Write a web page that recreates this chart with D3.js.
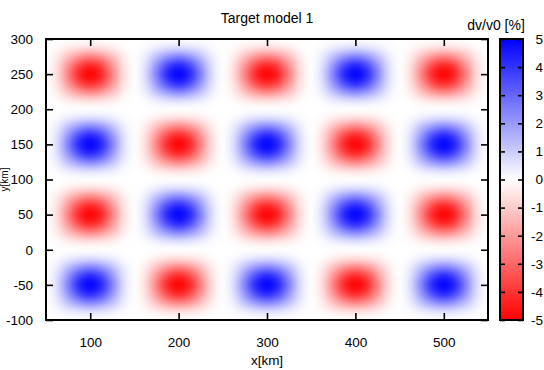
<!DOCTYPE html>
<html>
<head>
<meta charset="utf-8">
<script src="https://cdn.jsdelivr.net/npm/d3@7"></script>
<style>
  body { margin: 0; background: #fff; }
  svg { display: block; }
  text { font-family: "Liberation Sans", Arial, sans-serif; fill: #000; }
</style>
</head>
<body>
<div id="chart"></div>
<script>
// labels
const titleText = 'Target model 1';
const xLabel = 'x[km]';
const yLabel = 'y[km]';
const cbLabel = 'dv/v0 [%]';

// tick values
const xTicks = [100, 200, 300, 400, 500];
const yTicks = [-100, -50, 0, 50, 100, 150, 200, 250, 300];
const cbTicks = [-5, -4, -3, -2, -1, 0, 1, 2, 3, 4, 5];

// grid nodes of the model (km), columns left->right, rows top->bottom
const xNodes = [50, 62.5, 75, 87.5, 100, 112.5, 125, 137.5, 150, 162.5, 175, 187.5, 200, 212.5, 225, 237.5,
  250, 262.5, 275, 287.5, 300, 312.5, 325, 337.5, 350, 362.5, 375, 387.5, 400, 412.5, 425, 437.5,
  450, 462.5, 475, 487.5, 500, 512.5, 525, 537.5, 550];
const yNodes = [300, 287.5, 275, 262.5, 250, 237.5, 225, 212.5, 200, 187.5, 175, 162.5, 150, 137.5, 125, 112.5,
  100, 87.5, 75, 62.5, 50, 37.5, 25, 12.5, 0, -12.5, -25, -37.5, -50, -62.5, -75, -87.5, -100];

// dv/v0 [%], one row per yNode
const dv = [
  [0, 0,0,0,0,0,0,0, 0, 0,0,0,0,0,0,0, 0, 0,0,0,0,0,0,0, 0, 0,0,0,0,0,0,0, 0, 0,0,0,0,0,0,0, 0],
  [0, -.1,-.4,-.6,-.7,-.6,-.4,-.1, 0, .1,.4,.6,.7,.6,.4,.1, 0, -.1,-.4,-.6,-.7,-.6,-.4,-.1, 0, .1,.4,.6,.7,.6,.4,.1, 0, -.1,-.4,-.6,-.7,-.6,-.4,-.1, 0],
  [0, -.4,-1.3,-2.1,-2.5,-2.1,-1.3,-.4, 0, .4,1.3,2.1,2.5,2.1,1.3,.4, 0, -.4,-1.3,-2.1,-2.5,-2.1,-1.3,-.4, 0, .4,1.3,2.1,2.5,2.1,1.3,.4, 0, -.4,-1.3,-2.1,-2.5,-2.1,-1.3,-.4, 0],
  [0, -.6,-2.1,-3.6,-4.3,-3.6,-2.1,-.6, 0, .6,2.1,3.6,4.3,3.6,2.1,.6, 0, -.6,-2.1,-3.6,-4.3,-3.6,-2.1,-.6, 0, .6,2.1,3.6,4.3,3.6,2.1,.6, 0, -.6,-2.1,-3.6,-4.3,-3.6,-2.1,-.6, 0],
  [0, -.7,-2.5,-4.3,-5,-4.3,-2.5,-.7, 0, .7,2.5,4.3,5,4.3,2.5,.7, 0, -.7,-2.5,-4.3,-5,-4.3,-2.5,-.7, 0, .7,2.5,4.3,5,4.3,2.5,.7, 0, -.7,-2.5,-4.3,-5,-4.3,-2.5,-.7, 0],
  [0, -.6,-2.1,-3.6,-4.3,-3.6,-2.1,-.6, 0, .6,2.1,3.6,4.3,3.6,2.1,.6, 0, -.6,-2.1,-3.6,-4.3,-3.6,-2.1,-.6, 0, .6,2.1,3.6,4.3,3.6,2.1,.6, 0, -.6,-2.1,-3.6,-4.3,-3.6,-2.1,-.6, 0],
  [0, -.4,-1.3,-2.1,-2.5,-2.1,-1.3,-.4, 0, .4,1.3,2.1,2.5,2.1,1.3,.4, 0, -.4,-1.3,-2.1,-2.5,-2.1,-1.3,-.4, 0, .4,1.3,2.1,2.5,2.1,1.3,.4, 0, -.4,-1.3,-2.1,-2.5,-2.1,-1.3,-.4, 0],
  [0, -.1,-.4,-.6,-.7,-.6,-.4,-.1, 0, .1,.4,.6,.7,.6,.4,.1, 0, -.1,-.4,-.6,-.7,-.6,-.4,-.1, 0, .1,.4,.6,.7,.6,.4,.1, 0, -.1,-.4,-.6,-.7,-.6,-.4,-.1, 0],
  [0, 0,0,0,0,0,0,0, 0, 0,0,0,0,0,0,0, 0, 0,0,0,0,0,0,0, 0, 0,0,0,0,0,0,0, 0, 0,0,0,0,0,0,0, 0],
  [0, .1,.4,.6,.7,.6,.4,.1, 0, -.1,-.4,-.6,-.7,-.6,-.4,-.1, 0, .1,.4,.6,.7,.6,.4,.1, 0, -.1,-.4,-.6,-.7,-.6,-.4,-.1, 0, .1,.4,.6,.7,.6,.4,.1, 0],
  [0, .4,1.3,2.1,2.5,2.1,1.3,.4, 0, -.4,-1.3,-2.1,-2.5,-2.1,-1.3,-.4, 0, .4,1.3,2.1,2.5,2.1,1.3,.4, 0, -.4,-1.3,-2.1,-2.5,-2.1,-1.3,-.4, 0, .4,1.3,2.1,2.5,2.1,1.3,.4, 0],
  [0, .6,2.1,3.6,4.3,3.6,2.1,.6, 0, -.6,-2.1,-3.6,-4.3,-3.6,-2.1,-.6, 0, .6,2.1,3.6,4.3,3.6,2.1,.6, 0, -.6,-2.1,-3.6,-4.3,-3.6,-2.1,-.6, 0, .6,2.1,3.6,4.3,3.6,2.1,.6, 0],
  [0, .7,2.5,4.3,5,4.3,2.5,.7, 0, -.7,-2.5,-4.3,-5,-4.3,-2.5,-.7, 0, .7,2.5,4.3,5,4.3,2.5,.7, 0, -.7,-2.5,-4.3,-5,-4.3,-2.5,-.7, 0, .7,2.5,4.3,5,4.3,2.5,.7, 0],
  [0, .6,2.1,3.6,4.3,3.6,2.1,.6, 0, -.6,-2.1,-3.6,-4.3,-3.6,-2.1,-.6, 0, .6,2.1,3.6,4.3,3.6,2.1,.6, 0, -.6,-2.1,-3.6,-4.3,-3.6,-2.1,-.6, 0, .6,2.1,3.6,4.3,3.6,2.1,.6, 0],
  [0, .4,1.3,2.1,2.5,2.1,1.3,.4, 0, -.4,-1.3,-2.1,-2.5,-2.1,-1.3,-.4, 0, .4,1.3,2.1,2.5,2.1,1.3,.4, 0, -.4,-1.3,-2.1,-2.5,-2.1,-1.3,-.4, 0, .4,1.3,2.1,2.5,2.1,1.3,.4, 0],
  [0, .1,.4,.6,.7,.6,.4,.1, 0, -.1,-.4,-.6,-.7,-.6,-.4,-.1, 0, .1,.4,.6,.7,.6,.4,.1, 0, -.1,-.4,-.6,-.7,-.6,-.4,-.1, 0, .1,.4,.6,.7,.6,.4,.1, 0],
  [0, 0,0,0,0,0,0,0, 0, 0,0,0,0,0,0,0, 0, 0,0,0,0,0,0,0, 0, 0,0,0,0,0,0,0, 0, 0,0,0,0,0,0,0, 0],
  [0, -.1,-.4,-.6,-.7,-.6,-.4,-.1, 0, .1,.4,.6,.7,.6,.4,.1, 0, -.1,-.4,-.6,-.7,-.6,-.4,-.1, 0, .1,.4,.6,.7,.6,.4,.1, 0, -.1,-.4,-.6,-.7,-.6,-.4,-.1, 0],
  [0, -.4,-1.3,-2.1,-2.5,-2.1,-1.3,-.4, 0, .4,1.3,2.1,2.5,2.1,1.3,.4, 0, -.4,-1.3,-2.1,-2.5,-2.1,-1.3,-.4, 0, .4,1.3,2.1,2.5,2.1,1.3,.4, 0, -.4,-1.3,-2.1,-2.5,-2.1,-1.3,-.4, 0],
  [0, -.6,-2.1,-3.6,-4.3,-3.6,-2.1,-.6, 0, .6,2.1,3.6,4.3,3.6,2.1,.6, 0, -.6,-2.1,-3.6,-4.3,-3.6,-2.1,-.6, 0, .6,2.1,3.6,4.3,3.6,2.1,.6, 0, -.6,-2.1,-3.6,-4.3,-3.6,-2.1,-.6, 0],
  [0, -.7,-2.5,-4.3,-5,-4.3,-2.5,-.7, 0, .7,2.5,4.3,5,4.3,2.5,.7, 0, -.7,-2.5,-4.3,-5,-4.3,-2.5,-.7, 0, .7,2.5,4.3,5,4.3,2.5,.7, 0, -.7,-2.5,-4.3,-5,-4.3,-2.5,-.7, 0],
  [0, -.6,-2.1,-3.6,-4.3,-3.6,-2.1,-.6, 0, .6,2.1,3.6,4.3,3.6,2.1,.6, 0, -.6,-2.1,-3.6,-4.3,-3.6,-2.1,-.6, 0, .6,2.1,3.6,4.3,3.6,2.1,.6, 0, -.6,-2.1,-3.6,-4.3,-3.6,-2.1,-.6, 0],
  [0, -.4,-1.3,-2.1,-2.5,-2.1,-1.3,-.4, 0, .4,1.3,2.1,2.5,2.1,1.3,.4, 0, -.4,-1.3,-2.1,-2.5,-2.1,-1.3,-.4, 0, .4,1.3,2.1,2.5,2.1,1.3,.4, 0, -.4,-1.3,-2.1,-2.5,-2.1,-1.3,-.4, 0],
  [0, -.1,-.4,-.6,-.7,-.6,-.4,-.1, 0, .1,.4,.6,.7,.6,.4,.1, 0, -.1,-.4,-.6,-.7,-.6,-.4,-.1, 0, .1,.4,.6,.7,.6,.4,.1, 0, -.1,-.4,-.6,-.7,-.6,-.4,-.1, 0],
  [0, 0,0,0,0,0,0,0, 0, 0,0,0,0,0,0,0, 0, 0,0,0,0,0,0,0, 0, 0,0,0,0,0,0,0, 0, 0,0,0,0,0,0,0, 0],
  [0, .1,.4,.6,.7,.6,.4,.1, 0, -.1,-.4,-.6,-.7,-.6,-.4,-.1, 0, .1,.4,.6,.7,.6,.4,.1, 0, -.1,-.4,-.6,-.7,-.6,-.4,-.1, 0, .1,.4,.6,.7,.6,.4,.1, 0],
  [0, .4,1.3,2.1,2.5,2.1,1.3,.4, 0, -.4,-1.3,-2.1,-2.5,-2.1,-1.3,-.4, 0, .4,1.3,2.1,2.5,2.1,1.3,.4, 0, -.4,-1.3,-2.1,-2.5,-2.1,-1.3,-.4, 0, .4,1.3,2.1,2.5,2.1,1.3,.4, 0],
  [0, .6,2.1,3.6,4.3,3.6,2.1,.6, 0, -.6,-2.1,-3.6,-4.3,-3.6,-2.1,-.6, 0, .6,2.1,3.6,4.3,3.6,2.1,.6, 0, -.6,-2.1,-3.6,-4.3,-3.6,-2.1,-.6, 0, .6,2.1,3.6,4.3,3.6,2.1,.6, 0],
  [0, .7,2.5,4.3,5,4.3,2.5,.7, 0, -.7,-2.5,-4.3,-5,-4.3,-2.5,-.7, 0, .7,2.5,4.3,5,4.3,2.5,.7, 0, -.7,-2.5,-4.3,-5,-4.3,-2.5,-.7, 0, .7,2.5,4.3,5,4.3,2.5,.7, 0],
  [0, .6,2.1,3.6,4.3,3.6,2.1,.6, 0, -.6,-2.1,-3.6,-4.3,-3.6,-2.1,-.6, 0, .6,2.1,3.6,4.3,3.6,2.1,.6, 0, -.6,-2.1,-3.6,-4.3,-3.6,-2.1,-.6, 0, .6,2.1,3.6,4.3,3.6,2.1,.6, 0],
  [0, .4,1.3,2.1,2.5,2.1,1.3,.4, 0, -.4,-1.3,-2.1,-2.5,-2.1,-1.3,-.4, 0, .4,1.3,2.1,2.5,2.1,1.3,.4, 0, -.4,-1.3,-2.1,-2.5,-2.1,-1.3,-.4, 0, .4,1.3,2.1,2.5,2.1,1.3,.4, 0],
  [0, .1,.4,.6,.7,.6,.4,.1, 0, -.1,-.4,-.6,-.7,-.6,-.4,-.1, 0, .1,.4,.6,.7,.6,.4,.1, 0, -.1,-.4,-.6,-.7,-.6,-.4,-.1, 0, .1,.4,.6,.7,.6,.4,.1, 0],
  [0, 0,0,0,0,0,0,0, 0, 0,0,0,0,0,0,0, 0, 0,0,0,0,0,0,0, 0, 0,0,0,0,0,0,0, 0, 0,0,0,0,0,0,0, 0]
];

const width = 544, height = 370;
const plot = {left: 46, right: 488, top: 39, bottom: 320};
const cbBox = {left: 500, right: 523};

const svg = d3.select('#chart').append('svg')
  .attr('width', width)
  .attr('height', height);

const x = d3.scaleLinear().domain([50, 550]).range([plot.left, plot.right]);
const y = d3.scaleLinear().domain([-100, 300]).range([plot.bottom, plot.top]);
const cb = d3.scaleLinear().domain([-5, 5]).range([plot.bottom, plot.top]);
const color = d3.scaleLinear()
  .domain([-5, 0, 5])
  .range(['#ff0000', '#ffffff', '#0000ff'])
  .clamp(true);

// heat map: one pixel per grid node, then smoothed up to plot size
const small = document.createElement('canvas');
small.width = xNodes.length;
small.height = yNodes.length;
const sctx = small.getContext('2d');
const img = sctx.createImageData(small.width, small.height);
dv.forEach((row, j) => {
  row.forEach((v, i) => {
    const c = d3.rgb(color(v));
    const k = (j * small.width + i) * 4;
    img.data[k] = c.r;
    img.data[k + 1] = c.g;
    img.data[k + 2] = c.b;
    img.data[k + 3] = 255;
  });
});
sctx.putImageData(img, 0, 0);

const cellW = (x(xNodes[xNodes.length - 1]) - x(xNodes[0])) / (xNodes.length - 1);
const cellH = (y(yNodes[yNodes.length - 1]) - y(yNodes[0])) / (yNodes.length - 1);
const big = document.createElement('canvas');
big.width = Math.round(plot.right - plot.left);
big.height = Math.round(plot.bottom - plot.top);
const bctx = big.getContext('2d');
bctx.fillStyle = '#fff';
bctx.fillRect(0, 0, big.width, big.height);
bctx.imageSmoothingEnabled = true;
bctx.imageSmoothingQuality = 'high';
bctx.drawImage(small,
  x(xNodes[0]) - plot.left - cellW / 2,
  y(yNodes[0]) - plot.top - cellH / 2,
  cellW * xNodes.length,
  cellH * yNodes.length);

svg.append('image')
  .attr('x', plot.left)
  .attr('y', plot.top)
  .attr('width', big.width)
  .attr('height', big.height)
  .attr('preserveAspectRatio', 'none')
  .attr('href', big.toDataURL());

// axes (gnuplot style: ticks pointing inwards on all four sides)
const fmt = d => String(d);

svg.append('g')
  .attr('transform', 'translate(0,' + plot.bottom + ')')
  .call(d3.axisBottom(x).tickValues(xTicks).tickSizeInner(-7).tickSizeOuter(0).tickPadding(17).tickFormat(fmt));
svg.append('g')
  .attr('transform', 'translate(0,' + plot.top + ')')
  .call(d3.axisTop(x).tickValues(xTicks).tickSizeInner(-7).tickSizeOuter(0).tickFormat(''));
svg.append('g')
  .attr('transform', 'translate(' + plot.left + ',0)')
  .call(d3.axisLeft(y).tickValues(yTicks).tickSizeInner(-7).tickSizeOuter(0).tickPadding(13).tickFormat(fmt));
svg.append('g')
  .attr('transform', 'translate(' + plot.right + ',0)')
  .call(d3.axisRight(y).tickValues(yTicks).tickSizeInner(-7).tickSizeOuter(0).tickFormat(''));

// colour box
const grad = svg.append('defs').append('linearGradient')
  .attr('id', 'cbgrad')
  .attr('x1', 0).attr('y1', 1)
  .attr('x2', 0).attr('y2', 0);
grad.selectAll('stop')
  .data(cbTicks)
  .enter().append('stop')
    .attr('offset', d => (d - cbTicks[0]) / (cbTicks[cbTicks.length - 1] - cbTicks[0]))
    .attr('stop-color', d => color(d));

svg.append('rect')
  .attr('x', cbBox.left)
  .attr('y', cb(5))
  .attr('width', cbBox.right - cbBox.left)
  .attr('height', cb(-5) - cb(5))
  .attr('fill', 'url(#cbgrad)');

svg.append('g')
  .attr('transform', 'translate(' + cbBox.left + ',0)')
  .call(d3.axisLeft(cb).tickValues(cbTicks).tickSizeInner(-5).tickSizeOuter(0).tickFormat(''));
const gcb = svg.append('g')
  .attr('transform', 'translate(' + cbBox.right + ',0)')
  .call(d3.axisRight(cb).tickValues(cbTicks).tickSizeInner(-5).tickSizeOuter(0).tickFormat(fmt));
gcb.selectAll('text')
  .attr('x', 20)
  .attr('text-anchor', 'end');

svg.selectAll('.domain').remove();
svg.selectAll('.tick line').attr('stroke', '#000').attr('stroke-width', 1.6);
svg.selectAll('.tick text').attr('font-size', 13.5);
svg.selectAll('g').attr('font-family', null).attr('font-size', null);

// borders
svg.append('rect')
  .attr('x', plot.left).attr('y', plot.top)
  .attr('width', plot.right - plot.left).attr('height', plot.bottom - plot.top)
  .attr('fill', 'none').attr('stroke', '#000').attr('stroke-width', 2);
svg.append('rect')
  .attr('x', cbBox.left).attr('y', cb(5))
  .attr('width', cbBox.right - cbBox.left).attr('height', cb(-5) - cb(5))
  .attr('fill', 'none').attr('stroke', '#000').attr('stroke-width', 2);

// titles
svg.append('text')
  .attr('x', (plot.left + plot.right) / 2)
  .attr('y', 23)
  .attr('text-anchor', 'middle')
  .attr('font-size', 14)
  .text(titleText);
svg.append('text')
  .attr('x', (plot.left + plot.right) / 2)
  .attr('y', 365)
  .attr('text-anchor', 'middle')
  .attr('font-size', 13.5)
  .text(xLabel);
// y label sits hard against the left edge, as in the reference
svg.append('text')
  .attr('transform', 'translate(8,' + (plot.top + plot.bottom) / 2 + ') rotate(-90)')
  .attr('text-anchor', 'middle')
  .attr('font-size', 10)
  .text(yLabel);
svg.append('text')
  .attr('x', 496)
  .attr('y', 30)
  .attr('text-anchor', 'middle')
  .attr('font-size', 14)
  .text(cbLabel);
</script>
</body>
</html>
